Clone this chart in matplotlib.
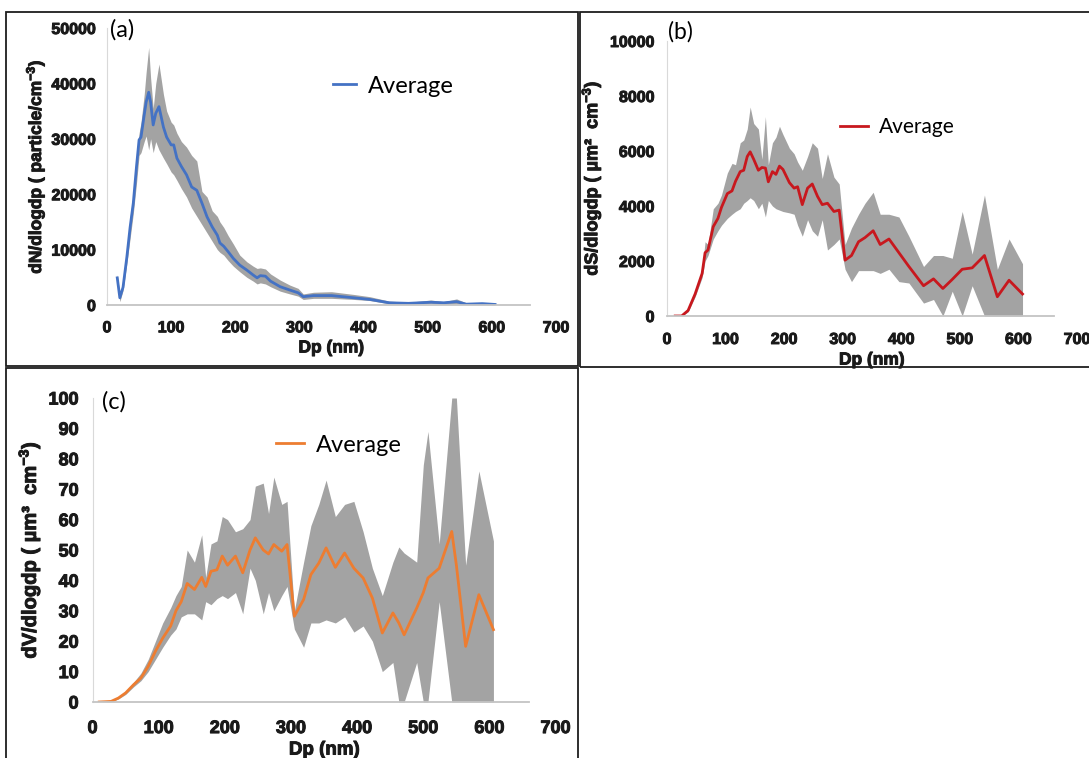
import matplotlib
matplotlib.use('Agg')
import matplotlib.pyplot as plt
import matplotlib.patheffects as pe
from matplotlib.patches import Rectangle

plt.rcParams['font.family'] = 'Liberation Sans'
plt.rcParams['font.weight'] = 'bold'
plt.rcParams['mathtext.fontset'] = 'custom'
plt.rcParams['mathtext.rm'] = 'Liberation Sans:bold'
plt.rcParams['mathtext.it'] = 'Liberation Sans:bold'
plt.rcParams['mathtext.bf'] = 'Liberation Sans:bold'

# (a) number size distribution
dp_a = [16, 20, 25, 31, 36, 41, 46, 50, 53, 58, 61, 65, 68, 72, 76, 81, 88, 93, 100, 104,
        109, 116, 124, 132, 140, 148, 156, 164, 172, 176, 182, 189, 197, 207, 218, 228, 234, 239, 247, 255,
        270, 285, 298, 306, 322, 350, 385, 410, 440, 470, 505, 525, 545, 560, 585, 605]
avg_a = [4900, 1300, 3200, 8700, 14000, 18400, 25000, 29800, 30300, 34300, 36600, 38400, 36600, 32500, 34600, 35800, 32100, 30300, 28900, 28900,
         26500, 25000, 23500, 21300, 20700, 18400, 15900, 14100, 12600, 11200, 10600, 9600, 8400, 7200, 6300, 5400, 4900, 5300, 5200, 4300,
         3300, 2700, 2200, 1500, 1700, 1700, 1300, 1000, 400, 300, 500, 400, 600, 150, 250, 100]
hi_a = [5500, 2000, 3800, 10000, 16000, 20000, 27000, 31000, 33000, 38000, 42000, 46500, 41000, 35500, 40000, 43500, 38000, 35000, 33000, 32500,
        31000, 29500, 28500, 27000, 26000, 20500, 19500, 17000, 16000, 15000, 14000, 12500, 11000, 9000, 7800, 7000, 6600, 6700, 6500, 5600,
        4500, 3600, 3000, 2000, 2300, 2400, 1900, 1500, 700, 500, 900, 600, 1100, 400, 400, 300]
lo_a = [4300, 600, 2600, 7500, 12000, 16500, 22000, 27000, 27500, 29500, 30500, 28000, 30000, 27500, 29500, 28000, 26500, 25500, 24000, 23500,
        22500, 21000, 19500, 17500, 16000, 14500, 13000, 11500, 10000, 9500, 9000, 8000, 7000, 6000, 5000, 4300, 3800, 4000, 3800, 3300,
        2500, 2000, 1600, 1000, 1200, 1200, 1000, 800, 200, 100, 300, 100, 200, 50, 50, 0]

# (b) surface size distribution
dp_b = [14, 25, 36, 48, 60, 65, 70, 79, 87, 93, 103, 111, 117, 125, 131, 137, 142, 148, 156, 162,
        168, 173, 180, 186, 192, 198, 209, 217, 223, 231, 240, 248, 257, 265, 274, 285, 294, 304, 315, 327,
        338, 352, 364, 379, 396, 413, 438, 455, 471, 487, 504, 521, 542, 564, 584, 607]
avg_b = [0, 0, 200, 800, 1550, 2300, 2400, 3250, 3550, 3950, 4450, 4550, 4900, 5250, 5300, 5800, 5970, 5700, 5300, 5400,
         5380, 4880, 5250, 5150, 5450, 5330, 4850, 4650, 4700, 4050, 4650, 4800, 4350, 4050, 4100, 3800, 3850, 2030, 2200, 2700,
         2850, 3100, 2600, 2800, 2300, 1800, 1100, 1350, 1000, 1330, 1700, 1750, 2200, 700, 1300, 800]
hi_b = [0, 0, 250, 900, 1700, 2700, 2600, 3900, 4100, 4400, 5200, 5550, 5500, 6300, 6400, 6800, 7600, 7000, 6800, 5700,
        7250, 5500, 6300, 6500, 6900, 6600, 6100, 5900, 5600, 5300, 5800, 6300, 6100, 5000, 5900, 5050, 4800, 2600, 3200, 3700,
        4100, 4500, 3700, 3700, 3600, 2900, 1800, 2200, 2200, 2100, 3800, 2250, 4400, 1700, 2800, 1900]
lo_b = [0, 0, 150, 700, 1400, 2000, 2200, 2800, 3100, 3300, 3550, 3700, 3800, 3900, 4100, 4200, 4300, 4200, 3900, 4100,
        3600, 4200, 4000, 3900, 3850, 3800, 3750, 3700, 3300, 2900, 3500, 3100, 2900, 3500, 2400, 2600, 2800, 1700, 1250, 1650,
        1650, 1650, 1550, 1700, 1250, 1200, 470, 600, 0, 900, 0, 1100, 0, 0, 0, 0]

# (c) volume size distribution
dp_c = [10, 28, 39, 50, 62, 73, 84, 95, 106, 118, 126, 134, 143, 154, 165, 171, 179, 188, 196, 204,
        216, 227, 238, 246, 258, 266, 274, 286, 294, 305, 319, 330, 342, 353, 367, 381, 395, 409, 423, 438,
        454, 463, 471, 490, 500, 507, 524, 543, 550, 564, 584, 606]
avg_c = [0, 0.2, 1.3, 3, 5.7, 7.9, 11.7, 16.7, 21, 25, 30, 33, 39, 37, 41, 38, 43, 43.5, 48, 45,
         48, 42.5, 50, 54, 50, 48.7, 51.8, 49.6, 51.8, 28.2, 33.7, 41.9, 45.7, 50.7, 44.3, 49, 44, 40.8, 34.2, 22.7,
         29.3, 26, 22.1, 30.9, 36, 40.8, 44, 56.1, 45, 18.3, 35.3, 23.8]
hi_c = [0, 0.2, 1.5, 3.5, 6.5, 9.5, 14, 20, 26, 31, 35, 38, 50, 46, 55, 41, 52, 53, 61, 60,
        56, 57, 60, 71, 72, 62, 74, 65, 66, 30, 46, 58, 65, 73, 61, 65, 66, 56, 44, 35,
        46, 51, 49, 46, 78, 89, 52, 100, 100, 45, 76, 53]
lo_c = [0, 0.1, 1, 2.5, 5, 7, 10, 14, 18, 22, 24, 28, 29, 29, 27, 33, 32, 34, 35, 34,
        36, 29, 44, 40, 29, 36, 30, 35, 38, 24, 18, 26, 26, 27, 26, 28, 23, 25, 20, 10,
        13, 0, 0, 13, 0, 0, 33, 0, 0, 0, 0, 0]

W, H = 1089, 758
BAND = '#a3a3a3'
INK = '#1a1a1a'
HEAVY = [pe.withStroke(linewidth=0.7, foreground=INK)]


def px_rect(x0, x1, y_top, y_bot):
    # pixel box (top-left origin) -> figure fraction
    return [x0 / W, 1 - y_bot / H, (x1 - x0) / W, (y_bot - y_top) / H]


fig = plt.figure(figsize=(W / 100, H / 100), dpi=100)

# panel frames
for x0, x1, yt, yb in [(6, 578, 12, 366), (580, 1095, 12, 367), (6, 578, 368, 765)]:
    fig.patches.append(Rectangle((x0 / W, 1 - yb / H), (x1 - x0) / W, (yb - yt) / H,
                                 transform=fig.transFigure, fill=False,
                                 edgecolor='#1e1e1e', linewidth=1.3))


def draw_panel(rect, dp, avg, lo, hi, color, ymax, ystep, ylabel, tag,
               tick_fs, xlab_fs, ylab_fs, leg_fs, tag_fs, xpad, ypad,
               ylab_x, xlab_y, leg_xy, hlen, tag_xy):
    ax = fig.add_axes(rect)
    ax.fill_between(dp, lo, hi, color=BAND, linewidth=0, zorder=1)
    ax.plot(dp, avg, color=color, linewidth=2.0, label='Average', zorder=2)
    ax.set_xlim(0, 700)
    ax.set_ylim(0, ymax)
    ax.set_xticks(range(0, 701, 100))
    ax.set_yticks(range(0, ymax + 1, ystep))
    ax.tick_params(length=0, labelsize=tick_fs, colors=INK)
    ax.tick_params(axis='x', pad=xpad)
    ax.tick_params(axis='y', pad=ypad)
    for lab in ax.get_xticklabels() + ax.get_yticklabels():
        lab.set_fontweight('bold')
        lab.set_path_effects(HEAVY)
    for s in ['top', 'right']:
        ax.spines[s].set_visible(False)
    ax.spines['left'].set_color('#d9d9d9')
    ax.spines['bottom'].set_color('#c4c4c4')
    ax.spines['bottom'].set_linewidth(1.3)
    ax.spines['bottom'].set_bounds(0, 660)
    ax.patch.set_alpha(0)
    ax.set_xlabel('Dp (nm)', fontsize=xlab_fs, fontweight='bold', va='center',
                  color=INK, path_effects=HEAVY)
    ax.xaxis.set_label_coords(0.5, xlab_y)
    ax.set_ylabel(ylabel, fontsize=ylab_fs, fontweight='bold', va='center',
                  color=INK, path_effects=HEAVY)
    ax.yaxis.set_label_coords(ylab_x, 0.5)
    ax.legend(loc='center left', bbox_to_anchor=leg_xy, frameon=False,
              prop={'family': 'Lato', 'weight': 'normal', 'size': leg_fs},
              handlelength=hlen, handletextpad=0.5, borderpad=0, borderaxespad=0)
    ax.text(tag_xy[0], tag_xy[1], tag, transform=ax.transAxes, family='Lato',
            fontweight='normal', fontsize=tag_fs, va='center', ha='left')
    return ax


draw_panel(px_rect(107, 556, 28, 305), dp_a, avg_a, lo_a, hi_a, '#4472c4', 50000, 10000,
           'dN/dlogdp ( particle/cm$^{-3}$)', '(a)',
           11.5, 12.5, 12.5, 17, 17, 11, 8, -0.16, -0.155, (0.503, 0.79), 1.0, (0.006, 0.995))

draw_panel(px_rect(667, 1077, 41, 316), dp_b, avg_b, lo_b, hi_b, '#c8181e', 10000, 2000,
           'dS/dlogdp ( \u00b5m\u00b2  cm$^{-3}$)', '(b)',
           11.5, 12.5, 13, 15, 16.5, 11.5, 9, -0.185, -0.16, (0.422, 0.687), 1.35, (0.002, 1.033))

draw_panel(px_rect(92.6, 555.6, 398, 702), dp_c, avg_c, lo_c, hi_c, '#ed7d31', 100, 10,
           'dV/dlogdp ( \u00b5m\u00b3  cm$^{-3}$)', '(c)',
           13, 13.5, 14.5, 17, 17, 13, 10, -0.137, -0.158, (0.396, 0.845), 1.2, (0.02, 0.987))

fig.savefig('out.png', dpi=100)
